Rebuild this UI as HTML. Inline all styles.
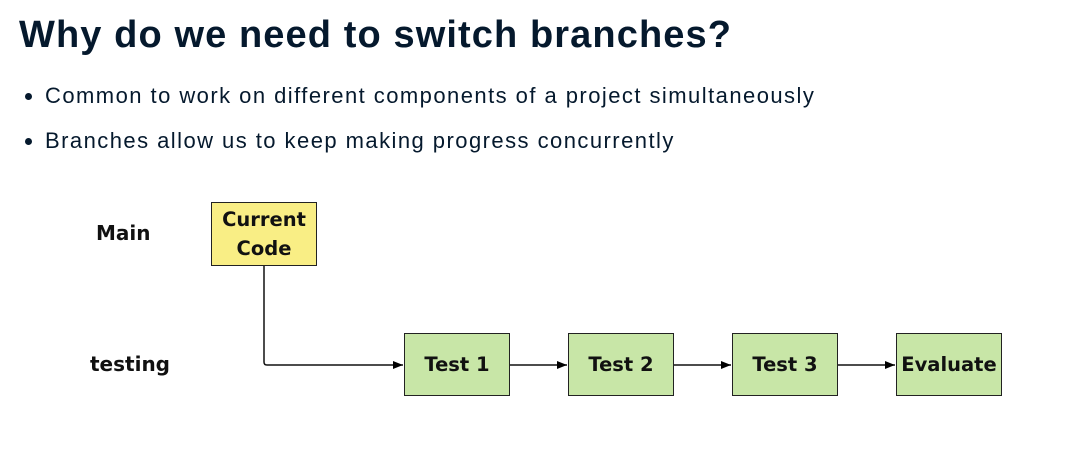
<!DOCTYPE html>
<html><head><meta charset="utf-8"><style>
body{margin:0;width:1065px;height:456px;background:#fff;position:relative;overflow:hidden;font-family:"Liberation Sans",sans-serif;color:#05192d}
h1{position:absolute;left:19px;top:14px;margin:0;font-size:38px;font-weight:bold;letter-spacing:1.1px}
.b{position:absolute;left:45px;font-size:22px;letter-spacing:1.45px}
.d{position:absolute;left:25px;width:7px;height:7px;border-radius:50%;background:#05192d}
.lbl{position:absolute;font-family:"DejaVu Sans",sans-serif;font-weight:bold;font-size:20px;color:#111}
.box{position:absolute;border:1.5px solid #222;box-sizing:border-box;display:flex;align-items:center;justify-content:center;text-align:center;font-family:"DejaVu Sans",sans-serif;font-weight:bold;font-size:19.5px;color:#111;line-height:29px}
.g{background:#c8e6a7;width:106px;height:63px;top:333px}
</style></head><body>
<h1>Why do we need to switch branches?</h1>
<div class="d" style="top:93px"></div><div class="b" style="top:83px">Common to work on different components of a project simultaneously</div>
<div class="d" style="top:138px"></div><div class="b" style="top:128px">Branches allow us to keep making progress concurrently</div>
<div class="lbl" style="left:96px;top:221px">Main</div>
<div class="lbl" style="left:90px;top:352px">testing</div>
<svg style="position:absolute;left:0;top:0" width="1065" height="456">
<defs><marker id="a" markerWidth="10" markerHeight="8" refX="10" refY="4" orient="auto" markerUnits="userSpaceOnUse"><path d="M0,0L10,4L0,8z" fill="#000"/></marker></defs>
<g stroke="#111" stroke-width="1.5" fill="none">
<path d="M264,265V362Q264,365 267,365H403" marker-end="url(#a)"/>
<path d="M510,365H567" marker-end="url(#a)"/>
<path d="M674,365H731" marker-end="url(#a)"/>
<path d="M838,365H895" marker-end="url(#a)"/>
</g></svg>
<div class="box" style="left:211px;top:202px;width:106px;height:64px;background:#f9ee85">Current<br>Code</div>
<div class="box g" style="left:404px">Test 1</div>
<div class="box g" style="left:568px">Test 2</div>
<div class="box g" style="left:732px">Test 3</div>
<div class="box g" style="left:896px">Evaluate</div>
</body></html>
